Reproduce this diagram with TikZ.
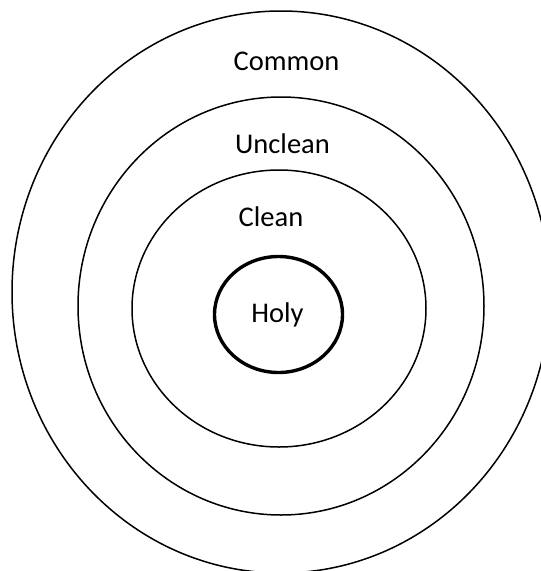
\documentclass[tikz,border=0pt]{standalone}
\usepackage{fontspec}
\setmainfont{Carlito}
\begin{document}
\begin{tikzpicture}[x=1pt,y=-1pt,
  ring/.style={draw=black,line width=1.5pt},
  holyring/.style={draw=black,line width=3.4pt},
  lbl/.style={anchor=base,inner sep=0pt,font=\fontsize{28.5}{30}\selectfont}]
\useasboundingbox (0,0) rectangle (541,571);
\clip (0,0) rectangle (541,571);
\draw[ring] (281,292) ellipse [x radius=269, y radius=281];
\draw[ring] (281,306) ellipse [x radius=203, y radius=209];
\draw[ring] (279,308.5) ellipse [x radius=147, y radius=138.5];
\draw[holyring] (278.5,314.5) ellipse [x radius=64, y radius=58];
\node[lbl] (common) at (286.5,70) {Common};
\node[lbl] (unclean) at (282.5,153) {Unclean};
\node[lbl] (clean) at (271,226) {Clean};
\node[lbl] (holy) at (277.5,322) {Holy};
\end{tikzpicture}
\end{document}
